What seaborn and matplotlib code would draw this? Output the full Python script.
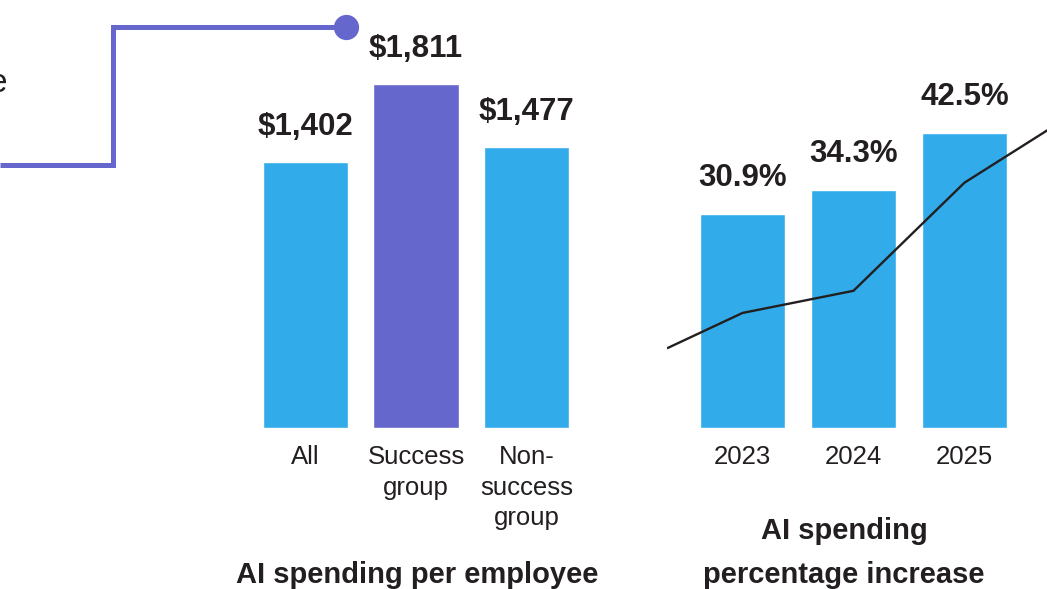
import matplotlib
matplotlib.use("Agg")
import matplotlib.pyplot as plt
import seaborn as sns
import pandas as pd

# --- data -------------------------------------------------------------
groups = ["All", "Success group", "Non-success group"]
group_ticklabels = ["All", "Success\ngroup", "Non-\nsuccess\ngroup"]
spend_per_employee = [1402, 1811, 1477]
spend_labels = ["$1,402", "$1,811", "$1,477"]

years = ["2023", "2024", "2025"]
pct_increase = [30.9, 34.3, 42.5]
pct_labels = ["30.9%", "34.3%", "42.5%"]

# decorative trend line running through the yearly bars
trend_pos = [-0.68, 0, 1, 2, 2.8]
trend_vals = [11.5, 16.6, 19.8, 35.4, 43.5]

# --- style ------------------------------------------------------------
sns.set_theme(style="white")
plt.rcParams["font.family"] = ["Liberation Sans", "DejaVu Sans"]

BLUE = "#31ABEA"
PURPLE = "#6667CC"
INK = "#231F20"

W, H = 1047, 589
fig = plt.figure(figsize=(W / 100, H / 100), dpi=100)


def px_axes(left, bottom, width, height):
    return fig.add_axes([left / W, bottom / H, width / W, height / H])


# left panel: spending per employee
ax1 = px_axes(239.2, 161, 353.6, 428)
df1 = pd.DataFrame({"group": groups, "value": spend_per_employee})
sns.barplot(data=df1, x="group", y="value", hue="group",
            palette=[BLUE, PURPLE, BLUE], width=0.77, saturation=1,
            legend=False, ax=ax1)
ax1.set_xlim(-0.6, 2.6)
ax1.set_ylim(0, 428 / 0.19)
for i, (v, lab) in enumerate(zip(spend_per_employee, spend_labels)):
    ax1.annotate(lab, xy=(i, v), xytext=(0, 27), textcoords="offset pixels",
                 ha="center", va="baseline", fontsize=22.5,
                 fontweight="bold", color=INK)

# right panel: yearly percentage increase
ax2 = px_axes(667, 161, 379.6, 428)
df2 = pd.DataFrame({"year": years, "value": pct_increase})
sns.barplot(data=df2, x="year", y="value", color=BLUE, width=0.766,
            saturation=1, ax=ax2)
ax2.set_xlim(-0.68, 2.74)
ax2.set_ylim(0, 428 / 6.93)
ax2.plot(trend_pos, trend_vals, color=INK, lw=1.7, solid_capstyle="butt")
for i, (v, lab) in enumerate(zip(pct_increase, pct_labels)):
    ax2.annotate(lab, xy=(i, v), xytext=(0, 28), textcoords="offset pixels",
                 ha="center", va="baseline", fontsize=22.5,
                 fontweight="bold", color=INK)

for ax in (ax1, ax2):
    ax.set_xlabel("")
    ax.set_ylabel("")
    ax.set_yticks([])
    ax.tick_params(axis="x", length=0, pad=12, labelsize=18.5,
                   labelcolor=INK)
    sns.despine(ax=ax, left=True, bottom=True)
    ax.patch.set_alpha(0)
ax1.set_xticks(range(len(groups)), group_ticklabels)
for t in ax1.get_xticklabels():
    t.set_linespacing(1.36)

# panel titles
fig.text(417 / W, 1 - 583 / H, "AI spending per employee", ha="center",
         va="baseline", fontsize=21, fontweight="bold", color=INK)
fig.text(844 / W, 1 - 583 / H, "AI spending\npercentage increase",
         ha="center", va="baseline", fontsize=21, fontweight="bold",
         color=INK, linespacing=1.71)

# connector from the intro text to the success group figure
ov = fig.add_axes([0, 0, 1, 1], zorder=-1)
ov.set_xlim(0, W)
ov.set_ylim(H, 0)
ov.axis("off")
ov.plot([0, 112.5, 112.5, 346], [165, 165, 27, 27], color=PURPLE, lw=3.6,
        solid_joinstyle="miter", solid_capstyle="butt")
ov.scatter([346], [27], s=330, color=PURPLE, zorder=3, linewidths=0)
ov.text(7, 92, "e", ha="right", va="baseline", fontsize=24, color=INK)

fig.savefig("out.png", dpi=100)
